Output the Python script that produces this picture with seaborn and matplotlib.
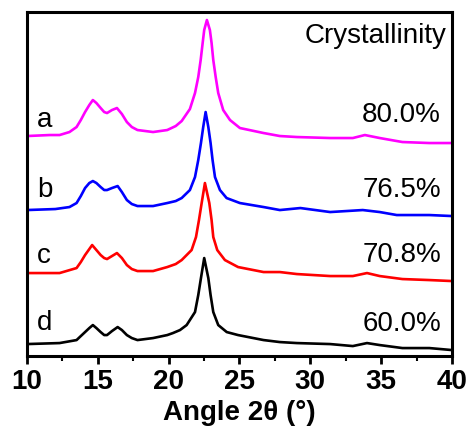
import numpy as np
import pandas as pd
import matplotlib
matplotlib.use('Agg')
import matplotlib.pyplot as plt
from matplotlib.ticker import MultipleLocator
import seaborn as sns

# XRD patterns (intensity, a.u., stacked)
angle_a = [10, 11.6, 12.3, 13.0, 13.5, 13.8, 14.1, 14.4, 14.65, 14.9, 15.2, 15.45, 15.65, 16.0, 16.35, 16.7,
           17.05, 17.4, 17.8, 18.9, 19.9, 20.5, 20.92, 21.5, 21.86, 22.09, 22.26, 22.4, 22.51, 22.7,
           22.91, 23.03, 23.15, 23.32, 23.5, 23.85, 24.33, 25.03, 26.7, 27.85, 29.05, 31.4, 33.0,
           33.85, 34.9, 36.5, 38.4, 40]
int_a = [220, 221, 221, 224, 229, 236, 244, 251, 256, 253, 248, 244, 243, 246, 248, 242,
         234, 229, 226, 224, 226, 230, 235, 247, 263, 279, 296, 313, 326, 336,
         326, 313, 296, 279, 263, 246, 236, 228, 223, 220, 219, 218, 218,
         221, 218, 214, 213, 213]

angle_b = [10, 12.0, 13.0, 13.5, 13.8, 14.1, 14.4, 14.65, 14.9, 15.2, 15.45, 15.65, 16.0, 16.4, 16.7,
           17.05, 17.4, 17.8, 18.9, 19.9, 20.5, 20.92, 21.5, 21.86, 22.09, 22.28, 22.44, 22.61,
           22.8, 22.96, 23.1, 23.27, 23.62, 24.09, 25.03, 26.7, 27.85, 29.3, 31.4, 33.7, 34.9,
           36.1, 38.4, 40]
int_b = [146, 147, 149, 153, 160, 168, 173, 175, 173, 169, 166, 166, 168, 170, 164,
         156, 152, 150, 150, 153, 155, 158, 166, 179, 196, 213, 229, 244,
         229, 213, 196, 179, 166, 158, 153, 149, 146, 148, 144, 146, 144,
         141, 141, 140]

angle_c = [10, 12.3, 13.5, 13.8, 14.1, 14.4, 14.6, 14.9, 15.2, 15.45, 15.65, 16.0, 16.35, 16.7,
           17.05, 17.4, 17.8, 18.9, 19.9, 20.5, 20.92, 21.62, 21.93, 22.14, 22.33, 22.56,
           22.87, 23.03, 23.15, 23.43, 23.97, 24.9, 26.7, 27.85, 29.05, 31.4, 33.0, 34.0,
           34.9, 36.5, 38.4, 40]
int_c = [83, 83, 88, 94, 101, 107, 111, 106, 101, 98, 97, 100, 103, 98,
         91, 87, 85, 85, 89, 92, 96, 106, 119, 136, 153, 173,
         153, 136, 119, 106, 96, 89, 84, 84, 82, 80, 80, 83,
         80, 77, 76, 75]

angle_d = [10, 12.3, 13.5, 13.8, 14.1, 14.4, 14.65, 14.9, 15.2, 15.45, 15.65, 16.0, 16.4, 16.7,
           17.05, 17.4, 17.8, 18.9, 19.9, 20.3, 20.8, 21.27, 21.86, 22.09, 22.28, 22.51,
           22.8, 22.96, 23.15, 23.5, 24.1, 24.9, 26.7, 27.85, 29.05, 31.4, 33.0, 34.0,
           34.9, 36.5, 38.4, 40]
int_d = [12, 13, 16, 20, 24, 28, 31, 28, 24, 21, 21, 25, 29, 26,
         21, 18, 16, 18, 21, 23, 26, 31, 44, 61, 78, 98,
         78, 61, 44, 31, 24, 21, 16, 14, 13, 12, 10, 13,
         11, 8, 8, 6]

samples = ['a', 'b', 'c', 'd']
crystallinity = ['80.0%', '76.5%', '70.8%', '60.0%']
colors = ['#FF00FF', '#0000FF', '#FF0000', '#000000']

sns.set_style('ticks')
plt.rcParams['font.family'] = ['Liberation Sans', 'DejaVu Sans']
plt.rcParams['text.color'] = 'black'
plt.rcParams['axes.labelcolor'] = 'black'
plt.rcParams['xtick.color'] = 'black'

fig = plt.figure(figsize=(4.7, 4.29), dpi=100)
ax = fig.add_axes([0.0574, 0.170, 0.9043, 0.802])

curves = [(angle_a, int_a), (angle_b, int_b), (angle_c, int_c), (angle_d, int_d)]
for (xs, ys), col in zip(curves, colors):
    sns.lineplot(x=xs, y=ys, color=col, lw=1.9, ax=ax, sort=False)

ax.set_xlim(10, 40)
ax.set_ylim(0, 344)
ax.set_yticks([])
ax.xaxis.set_major_locator(MultipleLocator(5))
ax.xaxis.set_minor_locator(MultipleLocator(2.5))
ax.tick_params(axis='x', which='major', direction='out', length=6, width=2,
               labelsize=20, pad=3, top=False, colors='black')
ax.tick_params(axis='x', which='minor', direction='out', length=3.5, width=1.5, top=False)
for lab in ax.get_xticklabels():
    lab.set_fontweight('bold')
for sp in ax.spines.values():
    sp.set_visible(True)
    sp.set_linewidth(2.2)
    sp.set_color('black')

ax.set_xlabel('Angle 2θ (°)', fontsize=20, fontweight='bold', labelpad=4)
ax.set_ylabel('')

# sample letters and crystallinity values
letter_y = [229, 159, 93, 26]
pct_y = [234, 159, 94, 25]
for s, p, ly, py in zip(samples, crystallinity, letter_y, pct_y):
    ax.text(10.7, ly, s, fontsize=20, ha='left', va='baseline')
    ax.text(39.22, py, p, fontsize=20, ha='right', va='baseline')
ax.text(39.64, 313, 'Crystallinity', fontsize=20, ha='right', va='baseline')

fig.savefig('out.png', dpi=100)
